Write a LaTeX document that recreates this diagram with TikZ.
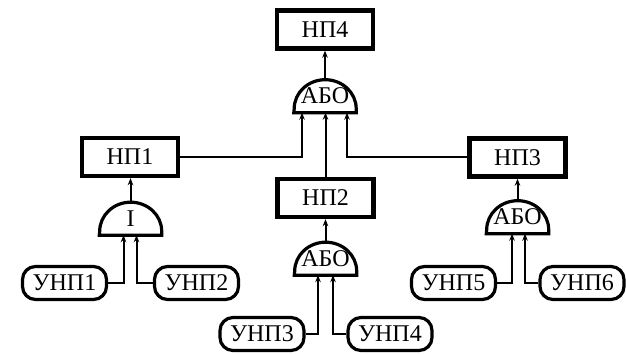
\documentclass[tikz,border=0pt]{standalone}
\usepackage{fontspec}
\newfontfamily\labelfont{Liberation Serif}
\usetikzlibrary{arrows.meta}
\begin{document}
\begin{tikzpicture}[x=1pt,y=1pt,
  lbl/.style={font=\labelfont\fontsize{24}{27}\selectfont, inner sep=0pt},
  evbox/.style={lbl, draw, line width=4.4pt, minimum width=96pt, minimum height=38pt},
  basic/.style={lbl, draw, line width=3.2pt, rounded corners=13pt, minimum width=84pt, minimum height=33pt},
  gatearea/.style={lbl, minimum width=62pt, minimum height=33pt},
  gateline/.style={line width=3.2pt, line join=miter},
  conn/.style={line width=2pt},
  arr/.style={conn, -{Stealth[length=7pt,width=5.5pt]}}
]
\useasboundingbox (0,0) rectangle (626,-355);

% events
\node[evbox] (n4) at (325,-29.5) {НП4};
\node[evbox] (n1) at (130,-157) {НП1};
\node[evbox] (n2) at (325.5,-198) {НП2};
\node[evbox] (n3) at (517.5,-157.5) {НП3};

% gates
\node[gatearea] (g4) at (325,-96) {АБО};
\node[gatearea] (g1) at (130.5,-218.5) {I};
\node[gatearea] (g2) at (325.5,-258.5) {АБО};
\node[gatearea] (g3) at (517.5,-217) {АБО};
\foreach \g in {g1,g2,g3,g4}{
  \draw[gateline] (\g.south west) -- (\g.south east) -- ++(0,4)
    arc[start angle=0,end angle=180,x radius=31pt,y radius=29pt] -- cycle;
}

% basic events
\node[basic] (u1) at (64.5,-283) {УНП1};
\node[basic] (u2) at (196.5,-283) {УНП2};
\node[basic] (u3) at (262,-334) {УНП3};
\node[basic] (u4) at (390,-334) {УНП4};
\node[basic] (u5) at (453.5,-283) {УНП5};
\node[basic] (u6) at (582,-283) {УНП6};

% connectors
\draw[arr] (g4.north) -- (n4.south);
\draw[arr] (n1.east) -| ([xshift=-23pt]g4.south);
\draw[arr] (n2.north) -- (n2.north |- g4.south);
\draw[arr] (n3.west) -| ([xshift=22pt]g4.south);

\draw[arr] (g1.north) -- (n1.south -| g1.north);
\draw[arr] (g2.north) -- (n2.south);
\draw[arr] (g3.north) -- (n3.south -| g3.north);

\draw[arr] (u1.east) -| ([xshift=-7pt]g1.south);
\draw[arr] (u2.west) -| ([xshift=6pt]g1.south);
\draw[arr] (u3.east) -| ([xshift=-7.5pt]g2.south);
\draw[arr] (u4.west) -| ([xshift=7.5pt]g2.south);
\draw[arr] (u5.east) -| ([xshift=-5.5pt]g3.south);
\draw[arr] (u6.west) -| ([xshift=7.5pt]g3.south);
\end{tikzpicture}
\end{document}
